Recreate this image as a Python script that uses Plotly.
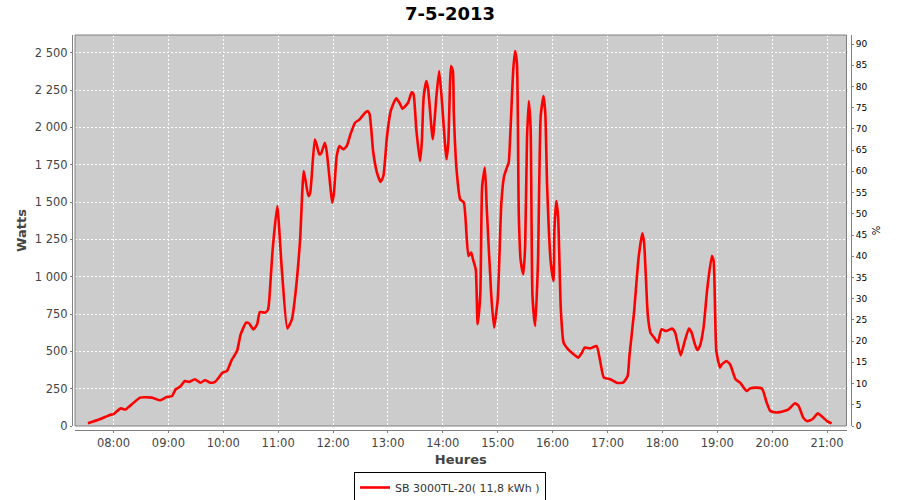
import plotly.graph_objects as go

# ---- data ----
day = "2013-05-07"
times = ["07:32","07:45","07:56","08:00","08:08","08:13","08:20","08:29","08:42","08:51","08:58",
         "09:04","09:08","09:13","09:18","09:23","09:29","09:35","09:40","09:46","09:51","09:55","09:59",
         "10:04","10:09","10:15","10:19","10:25","10:28","10:33","10:37","10:40","10:46","10:49","10:52","10:54","10:59",
         "11:04","11:10","11:15","11:19","11:24","11:28","11:33","11:35","11:40","11:42","11:45","11:47","11:51","11:53","11:57","11:59",
         "12:01","12:04","12:07","12:11","12:15","12:19","12:24","12:29","12:35","12:38","12:40","12:44","12:48","12:52","12:55","12:59",
         "13:03","13:09","13:13","13:16","13:22","13:26","13:28","13:31","13:35","13:37","13:39","13:42","13:44","13:49","13:53","13:56","13:59",
         "14:04","14:06","14:09","14:11","14:12","14:15","14:19","14:23","14:28","14:31","14:33","14:36","14:38","14:41","14:43","14:46","14:48","14:53","14:56",
         "15:00","15:04","15:07","15:10","15:12","15:14","15:17","15:19","15:21","15:23","15:25","15:28","15:30","15:32","15:34","15:36","15:38","15:41","15:44","15:47","15:50","15:52","15:54","15:58",
         "16:01","16:02","16:04","16:06","16:09","16:12","16:17","16:23","16:28","16:32","16:35","16:41","16:48","16:52","16:56",
         "17:03","17:10","17:17","17:22","17:24","17:29","17:34","17:38","17:40","17:44","17:47","17:51","17:55","17:59",
         "18:04","18:11","18:14","18:20","18:24","18:29","18:32","18:35","18:38","18:41","18:45","18:49","18:54","18:56","18:59",
         "19:03","19:05","19:10","19:14","19:20","19:25","19:32","19:36","19:42","19:49","19:54","19:58",
         "20:05","20:13","20:18","20:25","20:29","20:34","20:38","20:44","20:50","20:53",
         "21:00","21:05"]
watts = [18,45,74,80,118,110,145,190,190,172,194,
         201,246,264,301,295,313,290,306,290,295,324,357,
         368,440,502,614,692,688,647,681,763,759,781,1004,1183,1473,
         1049,654,714,893,1250,1707,1540,1562,1919,1886,1819,1826,1897,1841,1607,1496,
         1562,1808,1875,1853,1875,1953,2031,2053,2098,2109,2087,1830,1697,1634,1674,1942,
         2109,2194,2160,2125,2165,2236,2221,1987,1774,1897,2199,2310,2254,1920,2209,2377,2176,
         1786,1897,2410,2377,2098,1719,1518,1496,1138,1161,1116,1049,681,889,1607,1730,1462,870,659,
         848,1496,1674,1730,1763,1987,2388,2511,2433,1429,1116,1016,1205,1920,2176,1987,870,670,1094,2076,2209,2098,1607,1094,
         971,1317,1507,1406,781,558,513,480,458,491,525,520,536,435,324,
         313,290,290,335,469,759,1127,1290,1228,748,625,592,558,647,
         636,652,625,473,558,652,625,558,509,536,659,915,1138,1105,502,
         391,413,435,413,313,290,234,252,257,250,157,100,
         90,100,112,152,134,56,33,45,85,72,
         33,18]

series_name = "SB 3000TL-20( 11,8 kWh )"
chart_title = "7-5-2013"
x_title = "Heures"
y_title = "Watts"
y2_title = "%"
x_range = [day + " 07:17:54", day + " 21:21:17"]
y_range = [0, 2618.5]
y2_range = [0, 92.12]

x_vals = [f"{day} {t}" for t in times]

FONT = "DejaVu Sans"
GRAY = "#808080"

fig = go.Figure()
fig.add_trace(go.Scatter(
    x=x_vals, y=watts, mode="lines", name=series_name,
    line=dict(color="#FF0000", width=2.6, shape="spline", smoothing=0.5),
    yaxis="y",
))
# empty trace to materialise the right-hand percentage axis
fig.add_trace(go.Scatter(x=[], y=[], yaxis="y2", showlegend=False, hoverinfo="skip"))

# paper spans x 72..851 (axis lines), plot area 75..846.5 ; y paper 35..430, plot 35..426
W_PAPER = 779.0
H_PAPER = 395.0

fig.update_layout(
    width=900, height=500,
    margin=dict(l=72, r=49, t=35, b=70, autoexpand=False),
    paper_bgcolor="white",
    plot_bgcolor="#CCCCCC",
    separators=", ",
    font=dict(family=FONT, size=12, color="#444444"),
    title=dict(text=f"<b>{chart_title}</b>", x=0.5, xref="container", xanchor="center",
               y=486/500, yref="container", yanchor="middle",
               font=dict(family=FONT, size=18, color="#000000")),
    showlegend=True,
    legend=dict(orientation="h", x=(450-72)/W_PAPER, xanchor="center",
                y=(430-472)/H_PAPER, yanchor="top",
                bordercolor="#000000", borderwidth=1, bgcolor="white",
                font=dict(family=FONT, size=11, color="#333333"),
                itemwidth=30, tracegroupgap=0),
    xaxis=dict(
        type="date", range=x_range,
        domain=[3/W_PAPER, (846.5-72)/W_PAPER],
        anchor="free", position=0,
        tickformat="%H:%M", dtick=3600000, tick0=day + " 08:00",
        showgrid=True, gridcolor="white", griddash="2px,2px", gridwidth=1,
        zeroline=False,
        showline=True, linecolor=GRAY, linewidth=1,
        ticks="outside", ticklen=2, tickcolor=GRAY,
        tickfont=dict(family=FONT, size=11.5, color="#444444"),
        title=dict(text=f"<b>{x_title}</b>", font=dict(family=FONT, size=13, color="#444444"),
                   standoff=6),
    ),
    yaxis=dict(
        range=y_range, domain=[4/H_PAPER, 1],
        anchor="free", position=0,
        tickformat=",d", dtick=250, tick0=0,
        showgrid=True, gridcolor="white", griddash="2px,2px", gridwidth=1,
        zeroline=False,
        showline=True, linecolor=GRAY, linewidth=1,
        ticks="outside", ticklen=2, tickcolor=GRAY,
        tickfont=dict(family=FONT, size=11.5, color="#444444"),
        title=dict(text=f"<b>{y_title}</b>", font=dict(family=FONT, size=13, color="#444444"),
                   standoff=4),
    ),
    yaxis2=dict(
        range=y2_range, overlaying="y", side="right",
        anchor="free", position=1,
        dtick=5, tick0=0,
        showgrid=False, zeroline=False,
        showline=True, linecolor=GRAY, linewidth=1,
        ticks="outside", ticklen=2, tickcolor=GRAY,
        tickfont=dict(family=FONT, size=9, color="#000000"),
        title=dict(text=y2_title, font=dict(family=FONT, size=10, color="#000000"),
                   standoff=6),
    ),
    shapes=[dict(type="rect", xref="x domain", yref="y domain", x0=0, x1=1, y0=0, y1=1,
                 line=dict(color=GRAY, width=1), fillcolor="rgba(0,0,0,0)", layer="above")],
)

fig.write_html("out.html", config={"displayModeBar": False},
               post_script="document.body.style.margin='0';")
